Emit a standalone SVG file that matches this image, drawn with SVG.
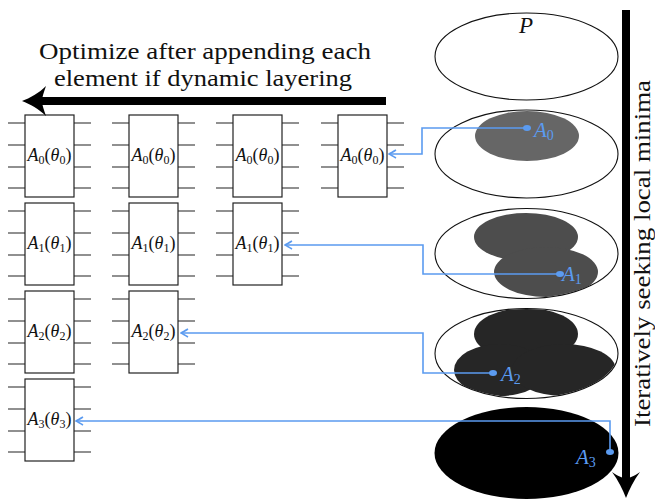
<svg xmlns="http://www.w3.org/2000/svg" width="655" height="500" viewBox="0 0 655 500">
  <style>
    .box { fill: #fff; stroke: #222; stroke-width: 1.2; }
    .wire { stroke: #222; stroke-width: 1.2; fill: none; }
    .lbl { font-size: 18px; fill: #111; }
    .it { font-style: italic; }
    .sub { font-size: 12px; }
    .shell { fill: none; stroke: #111; stroke-width: 1.1; }
    .link { fill: none; stroke: #5b9bf0; stroke-width: 1.6; }
    .dot { fill: #5b9bf0; }
    .blue { fill: #5b9bf0; font-size: 21px; font-style: italic; }
    .bsub { font-size: 14px; font-style: normal; }
    .big { font-size: 23px; fill: #111; }
  </style>
  <defs>
    <marker id="tip" viewBox="-9 -5 10 10" refX="0" refY="0" markerWidth="10" markerHeight="10" markerUnits="userSpaceOnUse" orient="auto">
      <path d="M-7,-4Q-2,-1 0,0Q-2,1 -7,4" fill="none" stroke="#5b9bf0" stroke-width="1.5"/>
    </marker>
    <clipPath id="clip-1"><ellipse cx="526.5" cy="253.5" rx="91" ry="44.5"/></clipPath>
    <clipPath id="clip-2"><ellipse cx="526.5" cy="353.5" rx="91" ry="44.5"/></clipPath>
    <!-- parametrised block with four qubit wires on each side -->
    <g id="blk">
      <path class="wire" d="M-17,8H0M-17,30H0M-17,52H0M-17,73H0M49,8H66M49,30H66M49,52H66M49,73H66"/>
      <rect class="box" x="0" y="0" width="49" height="82"/>
    </g>
  </defs>

  <!-- layered blocks -->
  <g id="block-0-0"><use href="#blk" x="25" y="115"/><text class="lbl" font-family="Liberation Serif" x="49.5" y="161" text-anchor="middle"><tspan class="it">A</tspan><tspan class="sub" dy="3">0</tspan><tspan dy="-3">(</tspan><tspan class="it">θ</tspan><tspan class="sub" dy="3">0</tspan><tspan dy="-3">)</tspan></text></g>
  <g id="block-0-1"><use href="#blk" x="129" y="115"/><text class="lbl" font-family="Liberation Serif" x="153.5" y="161" text-anchor="middle"><tspan class="it">A</tspan><tspan class="sub" dy="3">0</tspan><tspan dy="-3">(</tspan><tspan class="it">θ</tspan><tspan class="sub" dy="3">0</tspan><tspan dy="-3">)</tspan></text></g>
  <g id="block-0-2"><use href="#blk" x="233" y="115"/><text class="lbl" font-family="Liberation Serif" x="257.5" y="161" text-anchor="middle"><tspan class="it">A</tspan><tspan class="sub" dy="3">0</tspan><tspan dy="-3">(</tspan><tspan class="it">θ</tspan><tspan class="sub" dy="3">0</tspan><tspan dy="-3">)</tspan></text></g>
  <g id="block-0-3"><use href="#blk" x="338" y="115"/><text class="lbl" font-family="Liberation Serif" x="362.5" y="161" text-anchor="middle"><tspan class="it">A</tspan><tspan class="sub" dy="3">0</tspan><tspan dy="-3">(</tspan><tspan class="it">θ</tspan><tspan class="sub" dy="3">0</tspan><tspan dy="-3">)</tspan></text></g>

  <g id="block-1-0"><use href="#blk" x="25" y="203"/><text class="lbl" font-family="Liberation Serif" x="49.5" y="249" text-anchor="middle"><tspan class="it">A</tspan><tspan class="sub" dy="3">1</tspan><tspan dy="-3">(</tspan><tspan class="it">θ</tspan><tspan class="sub" dy="3">1</tspan><tspan dy="-3">)</tspan></text></g>
  <g id="block-1-1"><use href="#blk" x="129" y="203"/><text class="lbl" font-family="Liberation Serif" x="153.5" y="249" text-anchor="middle"><tspan class="it">A</tspan><tspan class="sub" dy="3">1</tspan><tspan dy="-3">(</tspan><tspan class="it">θ</tspan><tspan class="sub" dy="3">1</tspan><tspan dy="-3">)</tspan></text></g>
  <g id="block-1-2"><use href="#blk" x="233" y="203"/><text class="lbl" font-family="Liberation Serif" x="257.5" y="249" text-anchor="middle"><tspan class="it">A</tspan><tspan class="sub" dy="3">1</tspan><tspan dy="-3">(</tspan><tspan class="it">θ</tspan><tspan class="sub" dy="3">1</tspan><tspan dy="-3">)</tspan></text></g>

  <g id="block-2-0"><use href="#blk" x="25" y="291"/><text class="lbl" font-family="Liberation Serif" x="49.5" y="337" text-anchor="middle"><tspan class="it">A</tspan><tspan class="sub" dy="3">2</tspan><tspan dy="-3">(</tspan><tspan class="it">θ</tspan><tspan class="sub" dy="3">2</tspan><tspan dy="-3">)</tspan></text></g>
  <g id="block-2-1"><use href="#blk" x="129" y="291"/><text class="lbl" font-family="Liberation Serif" x="153.5" y="337" text-anchor="middle"><tspan class="it">A</tspan><tspan class="sub" dy="3">2</tspan><tspan dy="-3">(</tspan><tspan class="it">θ</tspan><tspan class="sub" dy="3">2</tspan><tspan dy="-3">)</tspan></text></g>

  <g id="block-3-0"><use href="#blk" x="25" y="379"/><text class="lbl" font-family="Liberation Serif" x="49.5" y="425" text-anchor="middle"><tspan class="it">A</tspan><tspan class="sub" dy="3">3</tspan><tspan dy="-3">(</tspan><tspan class="it">θ</tspan><tspan class="sub" dy="3">3</tspan><tspan dy="-3">)</tspan></text></g>

  <!-- parameter landscapes -->
  <g id="space-p">
    <ellipse class="shell" cx="526.5" cy="56.5" rx="91.5" ry="43.5"/>
    <text class="big" font-family="Liberation Serif" x="526" y="33" text-anchor="middle" font-style="italic">P</text>
  </g>
  <g id="space-0">
    <ellipse cx="527" cy="136" rx="52" ry="25" fill="#666"/>
    <ellipse class="shell" cx="526.5" cy="154" rx="91.5" ry="44"/>
  </g>
  <g id="space-1">
    <g fill="#4d4d4d" clip-path="url(#clip-1)">
      <ellipse cx="526" cy="237" rx="52" ry="24"/>
      <ellipse cx="546" cy="272" rx="52" ry="25"/>
    </g>
    <ellipse class="shell" cx="526.5" cy="253.5" rx="91.5" ry="45"/>
  </g>
  <g id="space-2">
    <g fill="#262626" clip-path="url(#clip-2)">
      <ellipse cx="526" cy="334" rx="52" ry="26"/>
      <ellipse cx="500" cy="370" rx="46" ry="26"/>
      <ellipse cx="564" cy="370" rx="52" ry="26"/>
    </g>
    <ellipse class="shell" cx="526.5" cy="353.5" rx="91.5" ry="45"/>
  </g>
  <g id="space-3">
    <ellipse cx="526.5" cy="453" rx="92" ry="46" fill="#000"/>
  </g>

  <!-- links from minima back to the blocks -->
  <g id="links">
    <path class="link" d="M527,128H422V154H389" marker-end="url(#tip)"/>
    <path class="link" d="M560,274H423V245H285" marker-end="url(#tip)"/>
    <path class="link" d="M493,373H423V333H181" marker-end="url(#tip)"/>
    <path class="link" d="M610,452V421H76" marker-end="url(#tip)"/>
    <ellipse class="dot" cx="527" cy="128" rx="4" ry="3"/>
    <ellipse class="dot" cx="560" cy="274" rx="4" ry="3"/>
    <ellipse class="dot" cx="493" cy="373" rx="4" ry="3"/>
    <ellipse class="dot" cx="610" cy="452" rx="4" ry="3"/>
  </g>
  <g id="minima-labels" font-family="Liberation Serif">
    <text class="blue" x="534" y="137">A<tspan class="bsub" dy="3">0</tspan></text>
    <text class="blue" x="562" y="281">A<tspan class="bsub" dy="3">1</tspan></text>
    <text class="blue" x="501" y="381">A<tspan class="bsub" dy="3">2</tspan></text>
    <text class="blue" x="576" y="464">A<tspan class="bsub" dy="3">3</tspan></text>
  </g>

  <!-- heavy process arrows -->
  <g id="layer-arrow">
    <path d="M386,101H40" stroke="#000" stroke-width="8"/>
    <path d="M22,101C30,98 39,93 46,86C44,92 42,97 42,101C42,105 44,110 46,116C39,109 30,104 22,101Z" fill="#000"/>
    <text class="big" font-family="Liberation Serif" x="205" y="59" text-anchor="middle" textLength="332" lengthAdjust="spacingAndGlyphs">Optimize after appending each</text>
    <text class="big" font-family="Liberation Serif" x="203" y="86" text-anchor="middle" textLength="298" lengthAdjust="spacingAndGlyphs">element if dynamic layering</text>
  </g>
  <g id="search-arrow">
    <path d="M626,10V482" stroke="#000" stroke-width="8"/>
    <path d="M626,498C623,490 618,480 612,472C618,476 622,478 626,478C630,478 634,476 640,472C634,480 629,490 626,498Z" fill="#000"/>
    <text class="big" font-family="Liberation Serif" transform="translate(650,427) rotate(-90)" textLength="347" lengthAdjust="spacingAndGlyphs">Iteratively seeking local minima</text>
  </g>
</svg>
